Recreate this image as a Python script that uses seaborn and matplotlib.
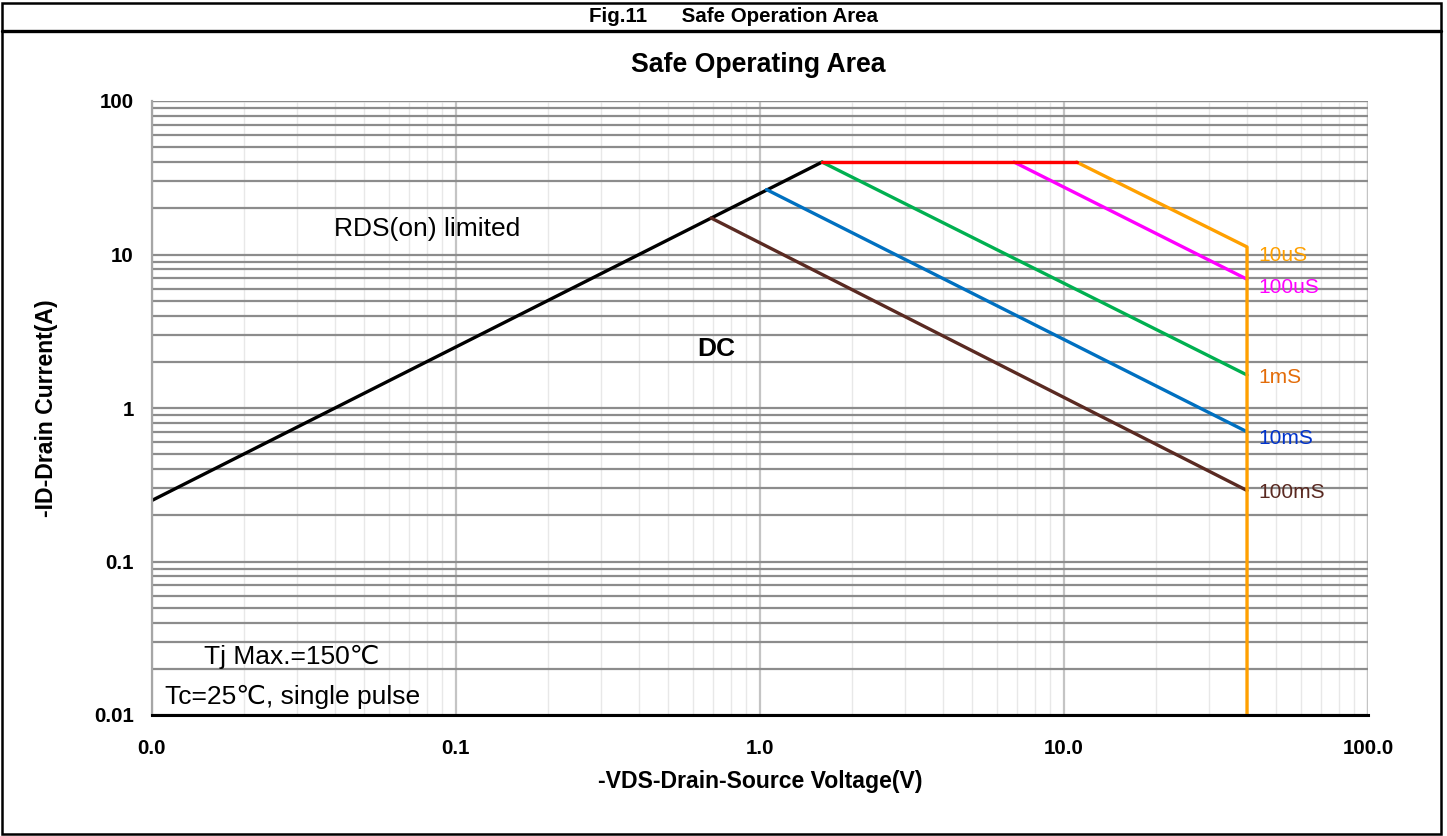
import matplotlib
matplotlib.use('Agg')
import matplotlib.pyplot as plt
import seaborn as sns
from matplotlib.ticker import LogLocator, FixedLocator, NullFormatter
from matplotlib.patches import Rectangle
from matplotlib.lines import Line2D
from matplotlib import font_manager

# SOA boundary segments (V, A)
rds_v = [0.01, 1.6]
rds_i = [0.25, 40]
lim_v = [1.6, 11]
lim_i = [40, 40]
us10_v = [11, 40, 40]
us10_i = [40, 11.2, 0.01]
us100_v = [6.85, 40]
us100_i = [40, 6.9]
ms1_v = [1.6, 40]
ms1_i = [40, 1.64]
ms10_v = [1.05, 40]
ms10_i = [26.5, 0.70]
ms100_v = [0.69, 40]
ms100_i = [17.3, 0.29]

x_ticks = [0.01, 0.1, 1, 10, 100]
x_ticklabels = ['0.0', '0.1', '1.0', '10.0', '100.0']
y_ticks = [0.01, 0.1, 1, 10, 100]
y_ticklabels = ['0.01', '0.1', '1', '10', '100']

pulse_labels = ['10uS', '100uS', '1mS', '10mS', '100mS']
pulse_label_i = [9.9, 6.1, 1.57, 0.63, 0.28]

sns.set_theme(style='white')
plt.rcParams['font.family'] = ['Liberation Sans', 'DejaVu Sans']
plt.rcParams.update({'text.color': 'black', 'axes.labelcolor': 'black',
                     'xtick.color': 'black', 'ytick.color': 'black'})

names = {f.name for f in font_manager.fontManager.ttflist}
condensed = 'Liberation Sans Narrow' in names or 'DejaVu Sans Condensed' in names
narrow = ['Liberation Sans Narrow', 'DejaVu Sans Condensed', 'Liberation Sans']
k = 1.0 if condensed else 0.87  # shrink plain bold text to keep the narrow widths

fig = plt.figure(figsize=(14.47, 8.36), dpi=100)
ax = fig.add_axes([152 / 1447, 1 - 715 / 836, (1368 - 152) / 1447, (715 - 101) / 836])
ax.set_xscale('log')
ax.set_yscale('log')
ax.set_xlim(0.01, 100)
ax.set_ylim(0.01, 100)

# grid: dark horizontal lines, light vertical lines
ax.xaxis.set_major_locator(FixedLocator(x_ticks))
ax.yaxis.set_major_locator(FixedLocator(y_ticks))
ax.xaxis.set_minor_locator(LogLocator(base=10, subs=range(2, 10), numticks=20))
ax.yaxis.set_minor_locator(LogLocator(base=10, subs=range(2, 10), numticks=20))
ax.xaxis.set_minor_formatter(NullFormatter())
ax.yaxis.set_minor_formatter(NullFormatter())
ax.grid(True, which='both', axis='y', color='#8c8c8c', lw=1.6)
ax.grid(True, which='major', axis='x', color='#c4c4c4', lw=1.6)
ax.grid(True, which='minor', axis='x', color='#e8e8e8', lw=1.0)
ax.set_axisbelow(True)
ax.tick_params(which='both', length=0)

ax.set_xticklabels(x_ticklabels, fontfamily=narrow, fontweight='bold', fontsize=17 * k)
ax.set_yticklabels(y_ticklabels, fontfamily=narrow, fontweight='bold', fontsize=17 * k)
ax.tick_params(axis='x', pad=17)
ax.tick_params(axis='y', pad=13)

for s in ['top', 'right']:
    ax.spines[s].set_visible(False)
ax.spines['left'].set_color('#a6a6a6')
ax.spines['left'].set_linewidth(1.6)
ax.spines['bottom'].set_color('black')
ax.spines['bottom'].set_linewidth(2.2)
ax.axhline(100, color='#8c8c8c', lw=1.6, zorder=0.5)
ax.axvline(100, color='#c4c4c4', lw=1.6, zorder=0.5)

segments = [
    (rds_v, rds_i, 'black'),
    (ms100_v, ms100_i, '#5a2a22'),
    (ms10_v, ms10_i, '#0070c0'),
    (ms1_v, ms1_i, '#00b050'),
    (us100_v, us100_i, '#ff00ff'),
    (us10_v, us10_i, '#ffa000'),
    (lim_v, lim_i, '#ff0000'),
]
for v, i, c in segments:
    sns.lineplot(x=v, y=i, sort=False, estimator=None, color=c, lw=2.4, ax=ax)

label_colors = ['#ffa000', '#ff00ff', '#e36c09', '#0033cc', '#5a2a22']
for lab, yi, c in zip(pulse_labels, pulse_label_i, label_colors):
    ax.annotate(lab, (40, yi), xytext=(8.5, 0), textcoords='offset points',
                color=c, fontsize=15, va='center', ha='left', annotation_clip=False)

ax.text(0.150, 0.791, 'RDS(on) limited', transform=ax.transAxes, fontsize=19, va='center')
ax.text(0.448, 0.596, 'DC', transform=ax.transAxes, fontsize=19, fontweight='bold', va='center')
ax.text(0.043, 0.094, 'Tj Max.=150\u2103', transform=ax.transAxes, fontsize=19, va='center')
ax.text(0.011, 0.029, 'Tc=25\u2103, single pulse', transform=ax.transAxes, fontsize=19, va='center')

ax.set_xlabel('-VDS-Drain-Source Voltage(V)', fontfamily=narrow, fontweight='bold', fontsize=19 * k, labelpad=9)
ax.set_ylabel('-ID-Drain Current(A)', fontfamily=narrow, fontweight='bold', fontsize=19 * k, labelpad=26)

fig.text(758 / 1447, 1 - 65 / 836, 'Safe Operating Area', fontfamily=narrow, fontweight='bold',
         fontsize=22 * k, ha='center', va='center')
fig.text(733 / 1447, 1 - 17 / 836, 'Fig.11      Safe Operation Area', fontfamily=narrow,
         fontweight='bold', fontsize=17 * k, ha='center', va='center')

# outer frame and header rule
fig.patches.append(Rectangle((2 / 1447, 2 / 836), 1439 / 1447, 831 / 836, transform=fig.transFigure,
                             fill=False, edgecolor='black', lw=1.8))
fig.lines.append(Line2D([2 / 1447, 1441 / 1447], [1 - 31 / 836] * 2, transform=fig.transFigure,
                        color='black', lw=2.4))

fig.savefig('out.png', dpi=100)
